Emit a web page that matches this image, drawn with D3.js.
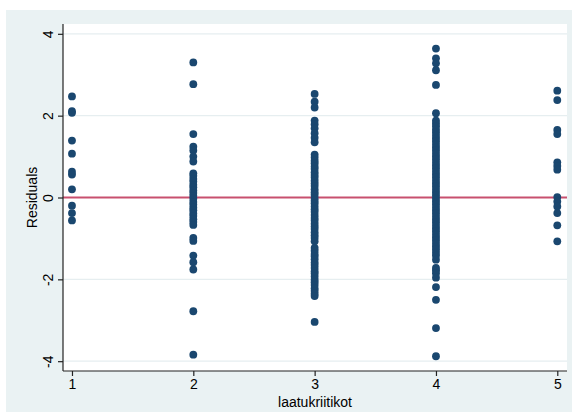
<!DOCTYPE html>
<html>
<head>
<meta charset="utf-8">
<script src="https://cdn.jsdelivr.net/npm/d3@7/dist/d3.min.js"></script>
<style>
  html, body { margin: 0; padding: 0; background: #ffffff; }
  svg { display: block; }
  text { font-family: "Liberation Sans", Arial, Helvetica, sans-serif; fill: #000; }
</style>
</head>
<body>
<svg id="chart" width="572" height="419"></svg>
<script>
// Residuals by quality-critic score (laatukriitikot), one column of points per category
const categories = [1, 2, 3, 4, 5];
const yTicks = [-4, -2, 0, 2, 4];

const residuals1 = [2.47, 2.11, 2.07, 1.39, 1.07, 0.63, 0.56, 0.20, -0.20, -0.38, -0.56];

const residuals2 = [3.30, 2.77, 1.55, 1.24, 1.15, 1.00, 0.88, 0.59, 0.53, 0.45, 0.39,
  0.31, 0.25, 0.17, 0.11, 0.04, -0.03, -0.11, -0.17, -0.25, -0.31, -0.39, -0.45,
  -0.53, -0.60, -0.67, -0.99, -1.06, -1.42, -1.58, -1.76, -2.78, -3.84];

const residuals3 = [2.53, 2.34, 2.20, 1.88, 1.79, 1.69, 1.57, 1.46, 1.35,
  1.05, 0.98, 0.90, 0.84, 0.76, 0.70, 0.62, 0.55, 0.49, 0.41, 0.34, 0.28, 0.20,
  0.13, 0.07, -0.01, -0.08, -0.14, -0.22, -0.29, -0.35, -0.43, -0.50, -0.56,
  -0.64, -0.71, -0.77, -0.85, -0.92, -0.99, -1.07,
  -1.23, -1.30, -1.38, -1.44, -1.51, -1.59, -1.65, -1.72, -1.80, -1.86, -1.93,
  -2.01, -2.07, -2.14, -2.22, -2.28, -2.35, -2.41, -3.04];

const residuals4 = [3.64, 3.40, 3.28, 3.11, 2.75, 2.06, 1.88, 1.81, 1.74, 1.66,
  1.59, 1.51, 1.44, 1.37, 1.29, 1.22, 1.15, 1.07, 1.00, 0.93, 0.85, 0.78, 0.71,
  0.63, 0.56, 0.49, 0.41, 0.34, 0.27, 0.19, 0.12, 0.05, -0.03, -0.10, -0.17,
  -0.25, -0.32, -0.39, -0.47, -0.54, -0.61, -0.69, -0.76, -0.83, -0.91, -0.98,
  -1.05, -1.13, -1.20, -1.27, -1.35, -1.42, -1.52, -1.72, -1.78, -1.85, -1.96,
  -2.19, -2.50, -3.19, -3.88];

const residuals5 = [2.61, 2.38, 1.65, 1.55, 0.86, 0.77, 0.68, 0.01, -0.10, -0.22,
  -0.38, -0.68, -1.07];

const residualsByCategory = [residuals1, residuals2, residuals3, residuals4, residuals5];

const svg = d3.select("#chart");

// Graph region and plot region
const outer = { x0: 6, y0: 10, x1: 572, y1: 412 };
const plot = { left: 63, right: 567, top: 24, bottom: 371 };

const x = d3.scaleLinear().domain([0.926, 5.08]).range([plot.left, plot.right]);
const y = d3.scaleLinear().domain([-4.24, 4.24]).range([plot.bottom, plot.top]);

svg.append("rect")
  .attr("x", outer.x0).attr("y", outer.y0)
  .attr("width", outer.x1 - outer.x0).attr("height", outer.y1 - outer.y0)
  .attr("fill", "#eaf2f3");

svg.append("rect")
  .attr("x", plot.left).attr("y", plot.top)
  .attr("width", plot.right - plot.left).attr("height", plot.bottom - plot.top)
  .attr("fill", "#ffffff");

// Horizontal grid lines
svg.append("g")
  .selectAll("line")
  .data(yTicks)
  .join("line")
  .attr("x1", plot.left).attr("x2", plot.right)
  .attr("y1", d => y(d)).attr("y2", d => y(d))
  .attr("stroke", "#e6eef0")
  .attr("stroke-width", 1.2);

// Reference line at zero
svg.append("line")
  .attr("x1", plot.left).attr("x2", plot.right)
  .attr("y1", y(0)).attr("y2", y(0))
  .attr("stroke", "#c8506f")
  .attr("stroke-width", 1.8);

// Points
const points = residualsByCategory.flatMap((vals, i) =>
  vals.map(v => ({ cat: categories[i], v })));

svg.append("g")
  .selectAll("circle")
  .data(points)
  .join("circle")
  .attr("cx", d => x(d.cat))
  .attr("cy", d => y(d.v))
  .attr("r", 3.9)
  .attr("fill", "#1a476f");

// Y axis
const yAxis = svg.append("g")
  .attr("transform", `translate(${plot.left},0)`)
  .call(d3.axisLeft(y).tickValues(yTicks).tickSize(5).tickSizeOuter(0)
    .tickFormat(d => String(d)));
yAxis.select(".domain").attr("stroke", "#222").attr("stroke-width", 1.2)
  .attr("d", `M0,${plot.top}V${plot.bottom}`);
yAxis.selectAll(".tick line").attr("stroke", "#222").attr("stroke-width", 1.2);
yAxis.selectAll(".tick text")
  .attr("x", null).attr("dy", "0.35em")
  .attr("transform", "translate(-15,0) rotate(-90)")
  .attr("text-anchor", "middle")
  .style("font-size", "14px")
  .attr("fill", "#000");

// X axis
const xAxis = svg.append("g")
  .attr("transform", `translate(0,${plot.bottom})`)
  .call(d3.axisBottom(x).tickValues(categories).tickSize(5).tickSizeOuter(0)
    .tickFormat(d => String(d)));
xAxis.select(".domain").attr("stroke", "#222").attr("stroke-width", 1.2)
  .attr("d", `M${plot.left},0H${plot.right}`);
xAxis.selectAll(".tick line").attr("stroke", "#222").attr("stroke-width", 1.2);
xAxis.selectAll(".tick text")
  .attr("y", 8).attr("dy", "0.71em")
  .style("font-size", "14px")
  .attr("fill", "#000");

// Axis titles
svg.append("text")
  .attr("transform", `translate(32,${(plot.top + plot.bottom) / 2}) rotate(-90)`)
  .attr("text-anchor", "middle")
  .attr("dy", "0.35em")
  .style("font-size", "14px")
  .text("Residuals");

svg.append("text")
  .attr("x", (plot.left + plot.right) / 2)
  .attr("y", 402)
  .attr("text-anchor", "middle")
  .attr("dy", "0.35em")
  .style("font-size", "14px")
  .text("laatukriitikot");
</script>
</body>
</html>
